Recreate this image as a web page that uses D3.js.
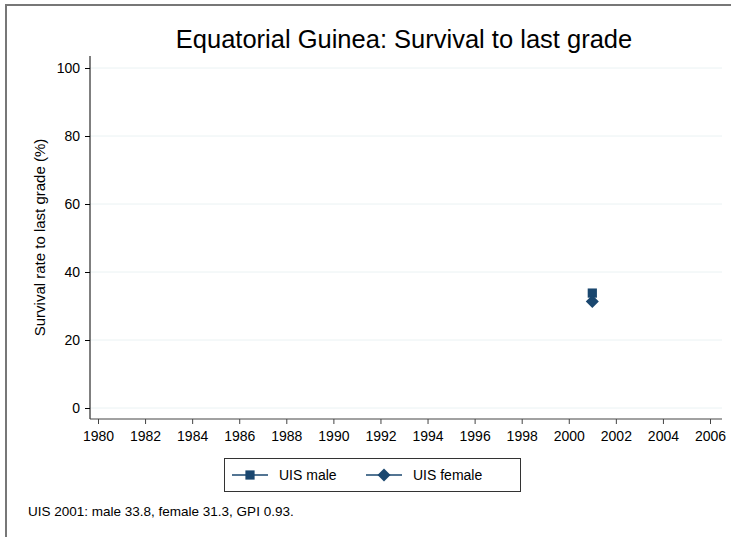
<!DOCTYPE html>
<html>
<head>
<meta charset="utf-8">
<script src="https://cdn.jsdelivr.net/npm/d3@7"></script>
<style>
  body { margin: 0; background: #fff; }
  svg { display: block; font-family: "Liberation Sans", Arial, sans-serif; }
</style>
</head>
<body>
<svg width="731" height="537"></svg>
<script>
// data
var years = [2001];
var maleVals = [33.8];
var femaleVals = [31.3];
var xTicks = [1980, 1982, 1984, 1986, 1988, 1990, 1992, 1994, 1996, 1998, 2000, 2002, 2004, 2006];
var yTicks = [0, 20, 40, 60, 80, 100];
var seriesNames = ["UIS male", "UIS female"];
var noteText = "UIS 2001: male 33.8, female 31.3, GPI 0.93.";

var navy = "#1a476f";
var svg = d3.select("svg");

// outer frame (only top and left visible)
svg.append("path").attr("d", "M6,537V5H731")
    .attr("fill", "none").attr("stroke", "#777").attr("stroke-width", 2);

var plotL = 90, plotR = 722, plotT = 56, plotB = 419;
var scX = d3.scaleLinear().domain([1980, 2006]).range([98, 710]);
var scY = d3.scaleLinear().domain([0, 100]).range([408, 68]);

// gridlines
svg.append("g").selectAll("line").data(yTicks).enter().append("line")
    .attr("x1", plotL).attr("x2", plotR)
    .attr("y1", d => scY(d)).attr("y2", d => scY(d))
    .attr("stroke", "#eaf2f3").attr("stroke-width", 1);

// y axis
var yAxis = svg.append("g").attr("transform", "translate(" + plotL + ",0)")
    .call(d3.axisLeft(scY).tickValues(yTicks).tickSize(5).tickPadding(5));
yAxis.select(".domain").attr("d", "M0," + plotT + "V" + plotB);
yAxis.selectAll("text").attr("font-size", 14).attr("fill", "#000")
    .attr("font-family", "Liberation Sans, Arial, sans-serif");

// x axis
var xAxis = svg.append("g").attr("transform", "translate(0," + plotB + ")")
    .call(d3.axisBottom(scX).tickValues(xTicks).tickFormat(d3.format("d")).tickSize(5).tickPadding(7));
xAxis.select(".domain").attr("d", "M" + plotL + ",0H" + plotR).attr("stroke", "#444");
xAxis.selectAll(".tick line").attr("stroke", "#444");
xAxis.selectAll("text").attr("font-size", 14).attr("fill", "#000")
    .attr("font-family", "Liberation Sans, Arial, sans-serif");

// markers
var sq = d3.symbol().type(d3.symbolSquare).size(85);
var dia = d3.symbol().type(d3.symbolSquare).size(85);
svg.append("g").selectAll("path").data(years).enter().append("path")
    .attr("d", sq).attr("fill", navy)
    .attr("transform", (d, i) => "translate(" + scX(d) + "," + scY(maleVals[i]) + ")");
svg.append("g").selectAll("path").data(years).enter().append("path")
    .attr("d", dia).attr("fill", navy)
    .attr("transform", (d, i) => "translate(" + scX(d) + "," + scY(femaleVals[i]) + ") rotate(45)");

// title
svg.append("text").attr("x", 404).attr("y", 48).attr("text-anchor", "middle")
    .attr("font-size", 25.5).text("Equatorial Guinea: Survival to last grade");

// y label
svg.append("text").attr("transform", "translate(45," + (plotT + plotB) / 2 + ") rotate(-90)")
    .attr("text-anchor", "middle").attr("font-size", 15)
    .text("Survival rate to last grade (%)");

// legend
var leg = svg.append("g");
leg.append("rect").attr("x", 224.5).attr("y", 458.5).attr("width", 296).attr("height", 33)
    .attr("fill", "#fff").attr("stroke", "#333").attr("stroke-width", 1);
var legX = [232, 366];
var legRot = [0, 45];
var syms = [sq, dia];
seriesNames.forEach(function(name, i) {
    var g = leg.append("g").attr("transform", "translate(" + legX[i] + ",475)");
    g.append("line").attr("x1", 0).attr("x2", 36).attr("stroke", navy).attr("stroke-width", 1.5);
    g.append("path").attr("d", syms[i]).attr("fill", navy)
        .attr("transform", "translate(18,0) rotate(" + legRot[i] + ")");
    g.append("text").attr("x", 47).attr("y", 5).attr("font-size", 14).text(name);
});

// note
svg.append("text").attr("x", 28).attr("y", 516).attr("font-size", 13.5).text(noteText);
</script>
</body>
</html>
